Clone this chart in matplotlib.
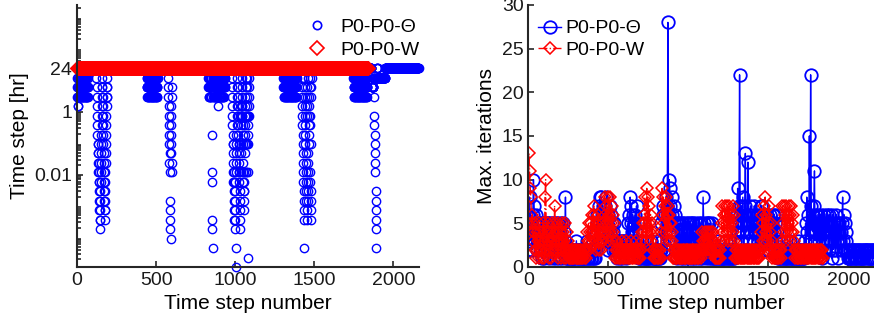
import numpy as np
import matplotlib.pyplot as plt
from matplotlib.ticker import LogLocator, NullFormatter

plt.rcParams['font.family'] = ['Liberation Sans', 'DejaVu Sans']

# ---- left panel: time step size per step (halving level, base-36 char: 24/2**k) ----
n_theta_steps = 2160
n_w_steps = 1840
theta_refine_start = [1, 123, 440, 576, 830, 977, 1304, 1420, 1747, 1862]
theta_refine_levels = [
    "1234343212321232123123212312321232123123212321231232123212312321232123",
    "12345678989abcdcbaefghgfedcb9a8765432123456789abcdefgfedcba98765432123",
    "2123212321232123212321232123212321232123212321232123212321232123212321",
    "12345678a9befghi9876543ab2",
    "1232123212321232123212b7cghj1232123212321232123212321232123212432123212321232123212321232123212321231212121",
    "1234567898abcdcbefghgfedcbajl98765432123456789ab8bcde5fgh98b54654321456"
    "78abcdcbedf9876543215b8b8543215b5k87654321",
    "1232123212321232123212321232123212321232123212321232123212321232123212321232123212321",
    "123456789abcdefgj123456789abcdefg54321abcde98765432165bcdgf8e321",
    "123212321232123212321232123212321232123212321232123212321232123212321232123212321232123212",
    "22222222222211115637891abdefghj1111000011111111111111111111111111111111111111111111111",
]

# ---- right panel: max iterations, one value per 4 steps (base-36 char) ----
iter_stride = 4
theta_iters = (
    "268354" "26a753" "642534"
    "352514152435251534251352415325142531524381"
    "121221212112121321212212121121213121221212121"
    "425637584867563748526374653425"
    "23213232123213232132"
    "352685746352647352"
    "12121321212112121231212121121321212"
    "5367264857s6a975684756325"
    "1525314515234152531452153514253145215341" "8" "5234152515213" "5"
    "12121212312121121212131212121121212"
    "3526947m63748527d645c63574625374"
    "45263546377253645364253645364625364"
    "121213212121121212131212121121213121212121"
    "3528462f3m75647b36"
    "452635264153625364526345" "1" "62354263514532" "45" "8" "365243"
    "2121121212211212121212112121212212121121212"
)
w_iters = (
    "5db98564"
    "342514231524312" "531" "8" "a" "4253142315243" "7" "524315243152413251423"
    "1212112121212112121211212121"
    "2435243546476352436253423"
    "35486475386845736453"
    "1213212121231212132121213212121231212121"
    "24354685394857463524"
    "121212112121"
    "496857486374653543"
    "121211212121121212112121212112121211212121212"
    "24323423432432342343"
    "1212112121"
    "3574637564735746357463"
    "1212112121212112121211212121211212121212"
    "246357384625374253"
    "121212112121212"
    "37574637465736475463"
    "212121121212121121212121212112121212121212121"
)

levels = np.zeros(n_theta_steps, dtype=int)
for s, seg in zip(theta_refine_start, theta_refine_levels):
    for i, c in enumerate(seg):
        if s + i < n_theta_steps:
            levels[s + i] = int(c, 36)
theta_dt = 24.0 / 2.0 ** levels
theta_x = np.arange(n_theta_steps)
w_dt = np.full(n_w_steps, 24.0)
w_x = np.arange(n_w_steps)

th_it = np.array([int(c, 36) for c in theta_iters])
w_it = np.array([int(c, 36) for c in w_iters])
th_it_x = np.arange(len(th_it)) * iter_stride
w_it_x = np.arange(len(w_it)) * iter_stride

blue = (0, 0, 1)
red = (1, 0, 0)
axc = '#262626'

fig = plt.figure(figsize=(8.74, 3.28), dpi=100)
ax1 = fig.add_axes([0.0881, 0.186, 0.391, 0.799])
ax2 = fig.add_axes([0.6045, 0.186, 0.3955, 0.799])

for ax in (ax1, ax2):
    for sp in ('top', 'right'):
        ax.spines[sp].set_visible(False)
    for sp in ('left', 'bottom'):
        ax.spines[sp].set_linewidth(1.5)
        ax.spines[sp].set_color(axc)
    ax.tick_params(direction='in', length=4, width=1.2, labelsize=14, colors=axc,
                   labelcolor='#1a1a1a')

# left
ax1.plot(theta_x, theta_dt, 'o', color=blue, ms=6, mfc='none', mew=1.0,
         clip_on=False, label='P0-P0-\u0398')
ax1.plot(w_x, w_dt, 'D', color=red, ms=7.5, mfc='none', mew=0.5,
         clip_on=False, label='P0-P0-W')
ax1.set_yscale('log')
ax1.set_ylim(24 / 2 ** 21, 2500)
ax1.set_xlim(0, 2160)
ax1.set_yticks([0.01, 1, 24])
ax1.set_yticklabels(['0.01', '1', '24'])
ax1.yaxis.set_minor_locator(LogLocator(base=10, subs=np.arange(2, 10), numticks=100))
ax1.yaxis.set_minor_formatter(NullFormatter())
ax1.tick_params(axis='y', which='minor', direction='in', length=3, width=1.2, colors=axc)
ax1.set_xticks([0, 500, 1000, 1500, 2000])
ax1.set_xlabel('Time step number', fontsize=15)
ax1.set_ylabel('Time step [hr]', fontsize=15)
leg1 = ax1.legend(loc='upper right', frameon=False, fontsize=14, handletextpad=0.2,
                  borderaxespad=0.1, labelspacing=0.25, bbox_to_anchor=(1.03, 0.985))
for h in leg1.legend_handles:
    h.set_markeredgewidth(1.2)

# right
ax2.plot(th_it_x, th_it, '-o', color=blue, ms=9, mfc='none', mew=1.3, lw=1.0,
         label='P0-P0-\u0398')
ax2.plot(w_it_x, w_it, '-.D', color=red, ms=6, mfc='none', mew=1.1, lw=1.0,
         label='P0-P0-W')
ax2.set_xlim(0, 2160)
ax2.set_ylim(0, 30)
ax2.set_xticks([0, 500, 1000, 1500, 2000])
ax2.set_yticks([0, 5, 10, 15, 20, 25, 30])
ax2.set_xlabel('Time step number', fontsize=15)
ax2.set_ylabel('Max. iterations', fontsize=15)
ax2.legend(loc='upper left', frameon=False, fontsize=14, handlelength=1.2,
           handletextpad=0.2, borderaxespad=0.1, labelspacing=0.2,
           bbox_to_anchor=(0.0, 0.98))

fig.savefig('out.png', dpi=100)
